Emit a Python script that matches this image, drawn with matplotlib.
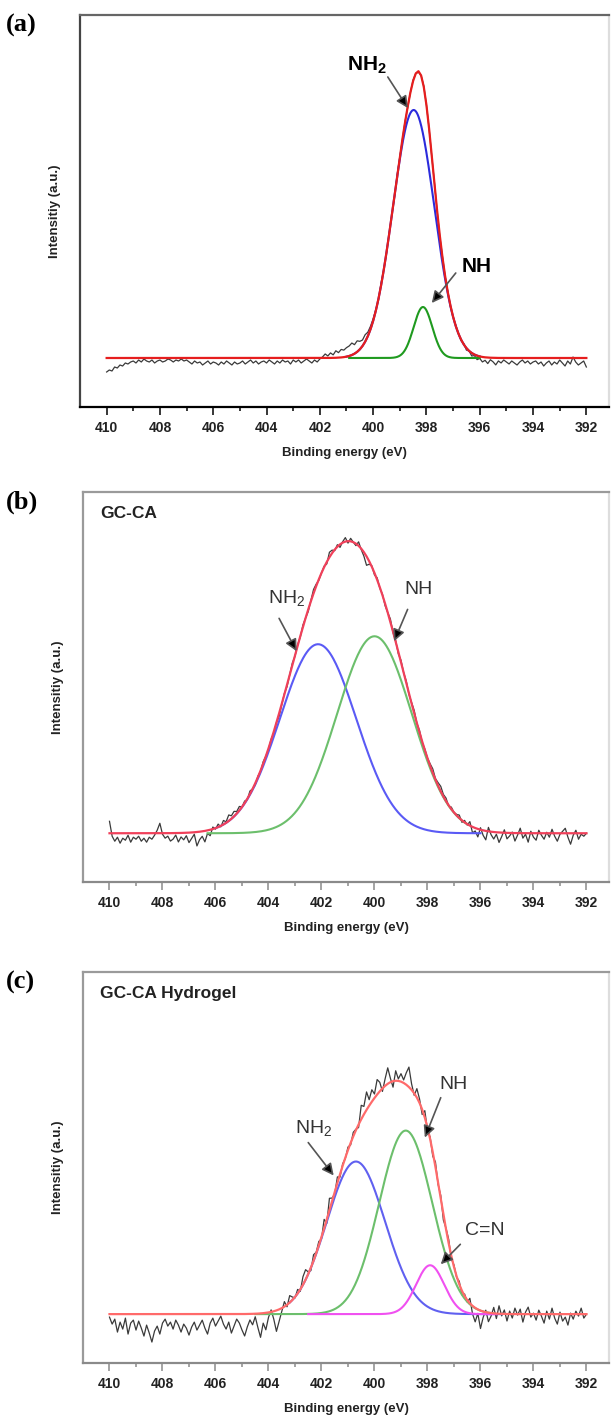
import numpy as np
import matplotlib.pyplot as plt

plt.rcParams['font.family'] = ['Liberation Sans', 'DejaVu Sans']
plt.rcParams['mathtext.default'] = 'regular'

# binding energy grid of the measured spectra (eV)
energia = np.round(np.arange(410.0, 391.95, -0.1), 1)

# --- (a) ---
picos_a = [398.48, 398.13]
alturas_a = [248, 51]
anchos_a = [0.78, 0.35]
rangos_a = [(401.0, 396.0), (400.9, 396.0)]
colores_a = ['#2b2bdc', '#1f9a1f']
residuo_a = [-14, -12, -13, -9, -10, -7, -8, -5, -6, -4, -3,
             -5, -2, -4, -1, -3, -4, -2, -5, -3, -2,
             -4, -3, -1, -2, -4, -2, -3, -1, -3, -2,
             -4, -6, -3, -5, -4, -7, -5, -3, -6, -4,
             -5, -7, -4, -6, -3, -5, -7, -4, -6, -5,
             -3, -6, -4, -2, -5, -3, -6, -4, -3, -5,
             -2, -4, -6, -3, -5, -2, -4, -3, -6, -2,
             -4, -2, -5, -3, -1, -3, -5, -2, -4, -1,
             1, 4, 2, 5, 3, 7, 5, 8, 7, 9,
             10, 12, 9, 11, 8, 6, 7, 4, 3, 2,
             1, -1, 2, 0, -1, 1, 0, -2, 1, 0,
             0, 1, -1, 0, 1, 0, -1, 0, 1, 0,
             0, -1, 1, 0, -1, 1, 0, 1, -1, 0,
             1, 0, -1, 1, -2, 0, -3, -1, -4, -2,
             -5, -3, -6, -2, -4, -7, -3, -5, -2, -4,
             -6, -3, -5, -7, -4, -2, -5, -3, -6, -4,
             -3, -6, -4, -8, -5, -3, -7, -4, -6, -2,
             -5, -8, -3, -6, 1, -4, -7, -5, -3, -9]

# --- (b) GC-CA ---
picos_b = [402.13, 400.0]
alturas_b = [190, 198]
anchos_b = [1.44, 1.41]
rangos_b = [(406.0, 396.0), (406.3, 396.5)]
colores_b = ['#5a5af5', '#6cbf6c']
residuo_b = [12, -3, -8, -4, -10, -5, -7, -2, -9, -4, -6,
             -3, -8, -5, -9, -4, -6, -2, 3, 10, -1,
             -5, -3, -8, -6, -2, -9, -4, -7, -3, -10,
             -6, -2, -14, -8, -5, -11, -3, -6, 2, -1,
             3, -1, 4, 1, 6, 3, 5, 2, 4, 0,
             2, -1, 3, 0, -2, 1, -1, 2, 0, -1,
             1, -2, 0, -3, -1, 1, -2, 0, 2, -1,
             1, -1, 2, 0, -2, 1, 4, 2, -1, 0,
             1, -2, 5, 3, -1, 2, -3, 1, 4, -2,
             3, 0, -2, 4, -1, -4, -9, -3, 1, -2,
             2, -1, 1, -2, 0, 3, -1, 1, -2, 2,
             0, 2, -1, 1, 3, 0, 2, -1, 1, 0,
             2, 4, 1, 3, 5, 2, 3, -1, 2, 0,
             1, 3, -2, 2, -1, 4, -6, -3, -8, 2,
             -5, -9, 4, -3, -7, -2, -10, -4, 3, -6,
             -3, 1, -8, -2, 5, -5, -1, -9, 2, -4,
             -7, 3, -2, -6, 1, -4, 4, -3, -8, -1,
             2, 5, -4, -11, -2, 3, -6, -1, -3, 0]

# --- (c) GC-CA Hydrogel ---
picos_c = [400.7, 398.82, 397.9]
alturas_c = [153, 184, 49]
anchos_c = [1.1, 1.0, 0.53]
rangos_c = [(403.2, 395.2), (404.5, 395.5), (402.5, 395.4)]
colores_c = ['#6060f0', '#6cbf6c', '#f050f0']
residuo_c = [-3, -10, -5, -18, -8, -15, -4, -20, -9, -6, -16,
             -7, -14, -22, -11, -19, -28, -17, -12, -20, -9,
             -5, -12, -8, -15, -6, -11, -18, -10, -14, -21,
             -13, -8, -16, -11, -6, -14, -20, -9, -4, -12,
             -7, -2, -10, -15, -8, -19, -12, -5, -9, -16,
             -22, -13, -6, -11, -3, -14, -24, -10, -17, -5,
             2, -8, -21, -12, -3, 5, -2, 7, 3, -1,
             4, -2, 8, 10, 2, -3, 6, 1, 4, -2,
             9, -4, 12, 3, -2, 6, -3, 2, -1, 3,
             -2, 4, 1, -3, 14, 8, 18, 6, 12, 4,
             15, 9, -3, 7, 16, 4, -6, 10, 2, 8,
             3, 12, 20, 6, -2, 9, 4, -5, 7, -3,
             2, -4, 5, -2, 3, -6, 1, 4, -3, 2,
             -1, 3, -4, 2, -2, 5, -8, -14, -4, -18,
             -6, 2, -9, -3, 6, -5, 8, -2, 4, -7,
             3, -4, 6, -1, 5, -8, 2, 7, -3, 1,
             -6, 4, -2, -9, 3, -5, 6, -4, -10, 2,
             -7, -3, -11, 1, -5, 3, -2, 6, -4, 0]

ticks_x = list(range(410, 391, -2))


def gauss(x, c, h, s):
    return h * np.exp(-(x - c) ** 2 / (2 * s ** 2))


def panel(ax, picos, alturas, anchos, rangos, colores, residuo, rojo, marco):
    envolvente = np.zeros_like(energia)
    for c, h, s in zip(picos, alturas, anchos):
        envolvente += gauss(energia, c, h, s)
    ax.plot(energia, envolvente + np.array(residuo), color='#3a3a3a', lw=0.9)
    for (c, h, s), (x0, x1), col in zip(zip(picos, alturas, anchos), rangos, colores):
        xs = np.linspace(x0, x1, 300)
        ax.plot(xs, gauss(xs, c, h, s), color=col, lw=1.5)
    ax.plot(energia, envolvente, color=rojo, lw=1.6)

    ax.set_xlim(411.0, 391.15)
    ax.set_ylim(-49, 343)
    ax.set_yticks([])
    ax.set_xticks(ticks_x)
    ax.set_xticks(range(409, 392, -2), minor=True)
    ax.tick_params(axis='x', which='major', direction='out', length=6, width=1.1,
                   pad=4, labelsize=10, colors=marco['tick'])
    ax.tick_params(axis='x', which='minor', direction='out', length=3, width=1.1,
                   colors=marco['tick'])
    for lab in ax.get_xticklabels():
        lab.set_fontweight('bold')
        lab.set_color('#222222')
    for lado, col in marco['spines'].items():
        ax.spines[lado].set_color(col)
        ax.spines[lado].set_linewidth(1.6)
    ax.set_xlabel('Binding energy (eV)', fontsize=9.5, fontweight='bold', labelpad=9,
                  color='#222222')
    ax.set_ylabel('Intensitiy (a.u.)', fontsize=9.5, fontweight='bold', labelpad=14,
                  color='#222222')


def flecha(ax, cola, punta, col='#555555'):
    ax.annotate('', xy=punta, xytext=cola,
                arrowprops=dict(arrowstyle='-|>,head_length=0.7,head_width=0.35',
                                color=col, lw=1.2, shrinkA=0, shrinkB=0,
                                fc='black', ec=col))


fig = plt.figure(figsize=(6.11, 14.21), dpi=100)
ax_a = fig.add_axes([80 / 611, 1 - 407 / 1421, 529 / 611, 392 / 1421])
ax_b = fig.add_axes([83 / 611, 1 - 882 / 1421, 526 / 611, 390 / 1421])
ax_c = fig.add_axes([83 / 611, 1 - 1363 / 1421, 526 / 611, 391 / 1421])

marco_a = {'tick': 'black',
           'spines': {'left': '#444444', 'bottom': 'black', 'top': '#666666', 'right': '#dddddd'}}
marco_bc = {'tick': '#8a8a8a',
            'spines': {'left': '#9a9a9a', 'bottom': '#8a8a8a', 'top': '#9a9a9a', 'right': '#dddddd'}}

panel(ax_a, picos_a, alturas_a, anchos_a, rangos_a, colores_a, residuo_a, '#e61e1e', marco_a)
panel(ax_b, picos_b, alturas_b, anchos_b, rangos_b, colores_b, residuo_b, '#f0405a', marco_bc)
panel(ax_c, picos_c, alturas_c, anchos_c, rangos_c, colores_c, residuo_c, '#ff6a6a', marco_bc)

# annotations (a)
ax_a.text(400.25, 293, 'NH$_2$', fontsize=15, fontweight='bold', ha='center', va='center')
flecha(ax_a, (399.45, 281), (398.7, 250))
ax_a.text(396.1, 91, 'NH', fontsize=15, fontweight='bold', ha='center', va='center')
flecha(ax_a, (396.9, 85), (397.8, 55))

# annotations (b)
ax_b.text(0.032, 0.946, 'GC-CA', transform=ax_b.transAxes, fontsize=12.5,
          fontweight='bold', ha='left', va='center', color='#222222')
ax_b.text(403.3, 236, 'NH$_2$', fontsize=14, ha='center', va='center', color='#333333')
flecha(ax_b, (403.6, 216), (402.94, 183))
ax_b.text(398.35, 245, 'NH', fontsize=14, ha='center', va='center', color='#333333')
flecha(ax_b, (398.75, 225), (399.26, 193))

# annotations (c)
ax_c.text(0.032, 0.946, 'GC-CA Hydrogel', transform=ax_c.transAxes, fontsize=12.5,
          fontweight='bold', ha='left', va='center', color='#222222')
ax_c.text(402.3, 187, 'NH$_2$', fontsize=14, ha='center', va='center', color='#333333')
flecha(ax_c, (402.5, 172), (401.54, 139))
ax_c.text(397.0, 230, 'NH', fontsize=14, ha='center', va='center', color='#333333')
flecha(ax_c, (397.5, 217), (398.1, 177))
ax_c.text(395.85, 84, 'C=N', fontsize=14, ha='center', va='center', color='#333333')
flecha(ax_c, (396.76, 70), (397.5, 50))

# panel letters
for letra, ypix in [('(a)', 25), ('(b)', 502), ('(c)', 982)]:
    fig.text(6 / 611, 1 - ypix / 1421, letra, fontsize=19, fontweight='bold',
             family=['Liberation Serif', 'DejaVu Serif'], ha='left', va='center')

fig.savefig('out.png', dpi=100)
